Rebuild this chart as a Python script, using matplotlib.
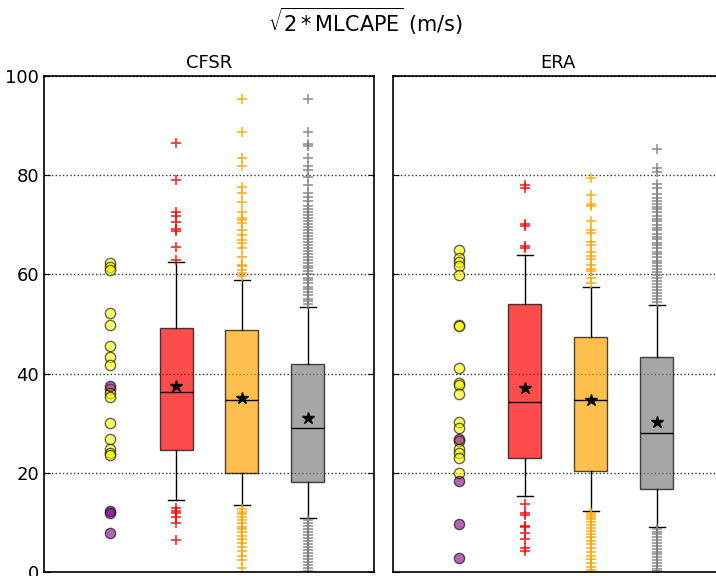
import matplotlib
matplotlib.use('Agg')
import matplotlib.pyplot as plt

# DATA
datasets = ['CFSR', 'ERA']
box_colors = ['red', 'orange', 'gray']
flier_colors = ['red', 'orange', '#808080']

# scattered cases (yellow / purple groups)
cfsr_yellow = [62.4, 61.4, 60.8, 52.3, 49.8, 45.6, 43.3, 41.7, 37.0, 36.0, 35.2, 30.1, 26.8, 24.8, 23.9, 23.6]
cfsr_purple = [37.5, 12.4, 12.0, 7.9]
era_yellow = [64.9, 63.4, 62.5, 61.7, 59.9, 49.9, 49.7, 41.1, 38.2, 37.8, 35.9, 30.2, 29.0, 26.4, 24.8, 23.9, 23.0, 19.9]
era_purple = [26.9, 18.3, 9.6, 2.8]

# box statistics: red, orange, gray
cfsr_med = [36.3, 34.7, 29.1]
cfsr_q1 = [24.6, 20.0, 18.2]
cfsr_q3 = [49.2, 48.8, 41.9]
cfsr_lo = [14.5, 13.5, 10.8]
cfsr_hi = [62.6, 58.9, 53.4]
cfsr_mean = [37.5, 35.1, 31.0]

era_med = [34.2, 34.7, 28.0]
era_q1 = [22.9, 20.4, 16.8]
era_q3 = [54.0, 47.3, 43.4]
era_lo = [15.3, 12.4, 9.1]
era_hi = [63.9, 57.4, 53.8]
era_mean = [37.1, 34.6, 30.2]

cfsr_red_fliers = [86.5, 79.0, 72.6, 71.8, 70.6, 69.2, 68.8, 65.6, 63.0,
                   13.0, 12.4, 11.8, 11.0, 9.8, 6.4]
cfsr_orange_fliers = [95.4, 88.8, 83.5, 81.8, 77.7, 76.4, 74.7, 72.6, 71.4, 71.0, 70.4, 69.0,
                      68.0, 67.0, 66.3, 65.3, 63.6, 62.0, 61.6, 60.9, 60.3, 59.6,
                      12.8, 12.2, 11.6, 11.0, 10.4, 9.8, 9.0, 8.6, 8.0, 7.2, 6.6, 5.8,
                      5.0, 4.2, 3.2, 2.4, 0.8]
cfsr_gray_fliers = [95.4, 88.8, 86.3, 85.9, 83.4, 81.8, 81.0, 79.7, 78.0, 76.4, 75.6, 74.8,
                    73.7, 73.1, 72.6, 71.9, 71.3, 70.8, 70.1, 69.5, 69.0, 68.3, 67.8, 67.1,
                    66.6, 66.0, 65.3, 64.8, 64.2, 63.5, 63.0, 62.4, 61.7, 61.2, 60.6, 60.0,
                    59.3, 58.8, 58.2, 57.5, 57.0, 56.4, 55.8, 55.1, 54.6, 54.0,
                    10.4, 9.8, 9.3, 8.7, 8.0, 7.5, 6.9, 6.2, 5.7, 5.0, 4.4, 3.9,
                    3.2, 2.6, 2.0, 1.4, 0.8, 0.3]

era_red_fliers = [78.0, 77.4, 70.2, 69.8, 65.7, 65.3,
                  13.8, 11.8, 11.5, 9.3, 9.0, 7.8, 6.6, 4.8, 4.3]
era_orange_fliers = [79.4, 76.0, 74.1, 73.7, 70.8, 69.0, 68.4, 66.6, 66.0, 64.6, 63.8, 63.2,
                     61.9, 61.0, 60.6, 59.3, 58.2,
                     12.0, 11.5, 11.0, 10.6, 10.0, 9.4, 8.8, 8.3, 7.6, 7.0, 6.2, 5.6,
                     4.8, 4.0, 3.2, 2.6, 1.8, 1.0, 0.4]
era_gray_fliers = [85.2, 81.5, 80.6, 78.2, 77.4, 76.2,
                   75.5, 74.9, 74.2, 73.6, 73.1, 72.5, 71.8, 71.2, 70.7, 70.0, 69.4, 68.9,
                   68.2, 67.6, 67.1, 66.4, 65.9, 65.3, 64.6, 64.1, 63.5, 62.8, 62.3, 61.7,
                   61.0, 60.5, 59.9, 59.2, 58.7, 58.1, 57.4, 56.9, 56.3, 55.6, 55.1, 54.5,
                   8.7, 8.1, 7.6, 7.0, 6.4, 5.9, 5.3, 4.7, 4.1, 3.6, 3.0, 2.4, 1.8, 1.2, 0.6, 0.2]

cfsr_fliers = [cfsr_red_fliers, cfsr_orange_fliers, cfsr_gray_fliers]
era_fliers = [era_red_fliers, era_orange_fliers, era_gray_fliers]


def make_stats(med, q1, q3, lo, hi, mean, fliers):
    stats = []
    for i in range(len(med)):
        stats.append(dict(med=med[i], q1=q1[i], q3=q3[i], whislo=lo[i], whishi=hi[i],
                          mean=mean[i], fliers=fliers[i]))
    return stats


panels = [
    (cfsr_yellow, cfsr_purple, make_stats(cfsr_med, cfsr_q1, cfsr_q3, cfsr_lo, cfsr_hi, cfsr_mean, cfsr_fliers)),
    (era_yellow, era_purple, make_stats(era_med, era_q1, era_q3, era_lo, era_hi, era_mean, era_fliers)),
]

# PLOT
plt.rcParams['font.family'] = 'DejaVu Sans'
plt.rcParams['mathtext.fontset'] = 'dejavusans'
fig = plt.figure(figsize=(7.16, 5.76), dpi=100)
axes = [fig.add_axes([0.0615, 0.0069, 0.4608, 0.8611]),
        fig.add_axes([0.5489, 0.0069, 0.4608, 0.8611])]

for ax, name, (yellow, purple, stats) in zip(axes, datasets, panels):
    ax.scatter([1] * len(yellow), yellow, s=55, c='yellow', alpha=0.6, edgecolors='k', linewidths=1, zorder=3)
    ax.scatter([1] * len(purple), purple, s=55, c='purple', alpha=0.6, edgecolors='k', linewidths=1, zorder=3)

    bp = ax.bxp(stats, positions=[2, 3, 4], widths=0.5, patch_artist=True, showmeans=True,
                medianprops=dict(color='k', linewidth=1),
                whiskerprops=dict(color='k', linewidth=1, linestyle='-'),
                capprops=dict(color='k', linewidth=1),
                meanprops=dict(marker='*', markerfacecolor='k', markeredgecolor='k', markersize=9),
                flierprops=dict(marker='+', markersize=7, markeredgewidth=1.2))
    for patch, col in zip(bp['boxes'], box_colors):
        patch.set_facecolor(col)
        patch.set_edgecolor('k')
        patch.set_alpha(0.7)
        patch.set_linewidth(1)
    for fl, col in zip(bp['fliers'], flier_colors):
        fl.set_markeredgecolor(col)
        fl.set_alpha(0.85)

    ax.set_xlim(0, 5)
    ax.set_ylim(0, 100)
    ax.set_xticks([])
    ax.set_yticks([0, 20, 40, 60, 80, 100])
    ax.yaxis.grid(True, linestyle=':', color='0.2', linewidth=1)
    ax.set_axisbelow(True)
    ax.tick_params(axis='y', direction='in', left=True, right=True, length=4, labelsize=13)
    for sp in ax.spines.values():
        sp.set_linewidth(1.2)
    ax.set_title(name, fontsize=13)

axes[1].tick_params(axis='y', labelleft=False)

fig.suptitle(r'$\sqrt{2*\mathrm{MLCAPE}}$ (m/s)', x=0.511, y=0.99, fontsize=15)

plt.savefig('out.png', dpi=100)
